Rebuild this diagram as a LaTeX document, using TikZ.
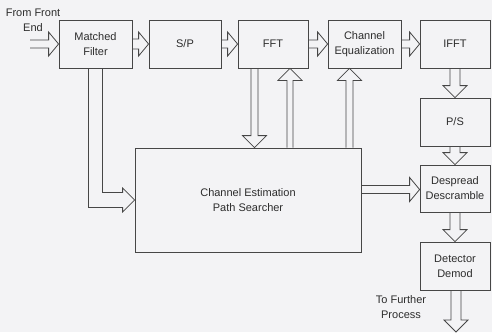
\documentclass[tikz,border=0pt]{standalone}
\usepackage{fontspec}
\setmainfont{Liberation Sans}
\usetikzlibrary{calc}
\definecolor{bgcol}{RGB}{243,243,245}
\definecolor{linecol}{RGB}{70,70,70}
\definecolor{txtcol}{RGB}{45,45,45}
\tikzset{
  box/.style={draw=linecol, line width=0.8pt, align=center, inner sep=0pt,
    font=\fontsize{11}{15}\selectfont, text=txtcol},
  lbl/.style={align=center, inner sep=0pt, font=\fontsize{11}{15}\selectfont, text=txtcol},
  blk/.style={draw=linecol, line width=0.8pt, line join=miter}
}
% horizontal rightward block arrow: #1 shaft half width, #2 start, #3 tip (y from tip)
\newcommand\arrR[3][4]{%
  \draw[blk] let \p1=(#2), \p2=(#3) in
    (\x1,\y2+#1pt) -- (\x2-10pt,\y2+#1pt) -- (\x2-10pt,\y2+12pt) -- (\x2,\y2)
    -- (\x2-10pt,\y2-12pt) -- (\x2-10pt,\y2-#1pt) -- (\x1,\y2-#1pt);}
% downward block arrow: x from tip
\newcommand\arrD[3][4]{%
  \draw[blk] let \p1=(#2), \p2=(#3) in
    (\x2-#1pt,\y1) -- (\x2-#1pt,\y2+12pt) -- (\x2-12pt,\y2+12pt) -- (\x2,\y2)
    -- (\x2+12pt,\y2+12pt) -- (\x2+#1pt,\y2+12pt) -- (\x2+#1pt,\y1);}
% upward block arrow: x from tip
\newcommand\arrU[3][4]{%
  \draw[blk] let \p1=(#2), \p2=(#3) in
    (\x2-#1pt,\y1) -- (\x2-#1pt,\y2-12pt) -- (\x2-12pt,\y2-12pt) -- (\x2,\y2)
    -- (\x2+12pt,\y2-12pt) -- (\x2+#1pt,\y2-12pt) -- (\x2+#1pt,\y1);}
\begin{document}
\begin{tikzpicture}[x=1pt,y=-1pt]
\fill[bgcol] (0,0) rectangle (492,332);
\useasboundingbox (0,0) rectangle (492,332);

\node[box, minimum width=73pt, minimum height=48pt] (mf) at (95.5,44) {Matched\\Filter};
\node[box, minimum width=72pt, minimum height=48pt] (sp) at (185,44) {S/P};
\node[box, minimum width=70pt, minimum height=48pt] (fft) at (273,44) {FFT};
\node[box, minimum width=73pt, minimum height=48pt] (ce) at (364.5,44) {Channel\\Equalization};
\node[box, minimum width=70pt, minimum height=48pt] (ifft) at (455,44) {IFFT};
\node[box, minimum width=70pt, minimum height=48pt] (ps) at (455,122) {P/S};
\node[box, minimum width=70pt, minimum height=47pt] (dd) at (455,188.5) {Despread\\Descramble};
\node[box, minimum width=70pt, minimum height=48pt] (det) at (455,266) {Detector\\Demod};
\node[box, minimum width=226pt, minimum height=104pt] (est) at (248,200) {Channel Estimation\\Path Searcher};

\node[lbl] (src) at (33,20) {From Front\\End};
\node[lbl] (dst) at (401,307.5) {To Further\\Process};
\coordinate (in) at (30,44);
\coordinate (out) at (456,332);

\arrR{in}{mf.west}
\arrR[5]{mf.east}{sp.west}
\arrR[4]{sp.east}{fft.west}
\arrR[4]{fft.east}{ce.west}
\arrR[4]{ce.east}{ifft.west}
\arrR[4]{est.east}{[yshift=-1pt]dd.west}

\arrD[5]{ifft.south}{ps.north}
\arrD[5]{ps.south}{dd.north}
\arrD[5]{dd.south}{det.north}
\arrD[5]{det.south}{out}

\arrD[3.5]{[xshift=-18.5pt]fft.south}{[xshift=-18.5pt]fft.south |- est.north}
\arrU[3]{[xshift=17pt]fft.south |- est.north}{[xshift=17pt]fft.south}
\arrU[3.5]{[xshift=-15pt]ce.south |- est.north}{[xshift=-15pt]ce.south}

% bent arrow from matched filter to estimation block
\draw[blk] let \p1=(mf.south), \p2=(est.west) in
  (\x1-7pt,\y1) -- (\x1-7pt,\y2-7.5pt) -- (\x2-12pt,\y2-7.5pt) -- (\x2-12pt,\y2-12pt)
  -- (\x2,\y2) -- (\x2-12pt,\y2+12pt) -- (\x2-12pt,\y2+7.5pt) -- (\x1+7pt,\y2+7.5pt)
  -- (\x1+7pt,\y1);
\end{tikzpicture}
\end{document}
